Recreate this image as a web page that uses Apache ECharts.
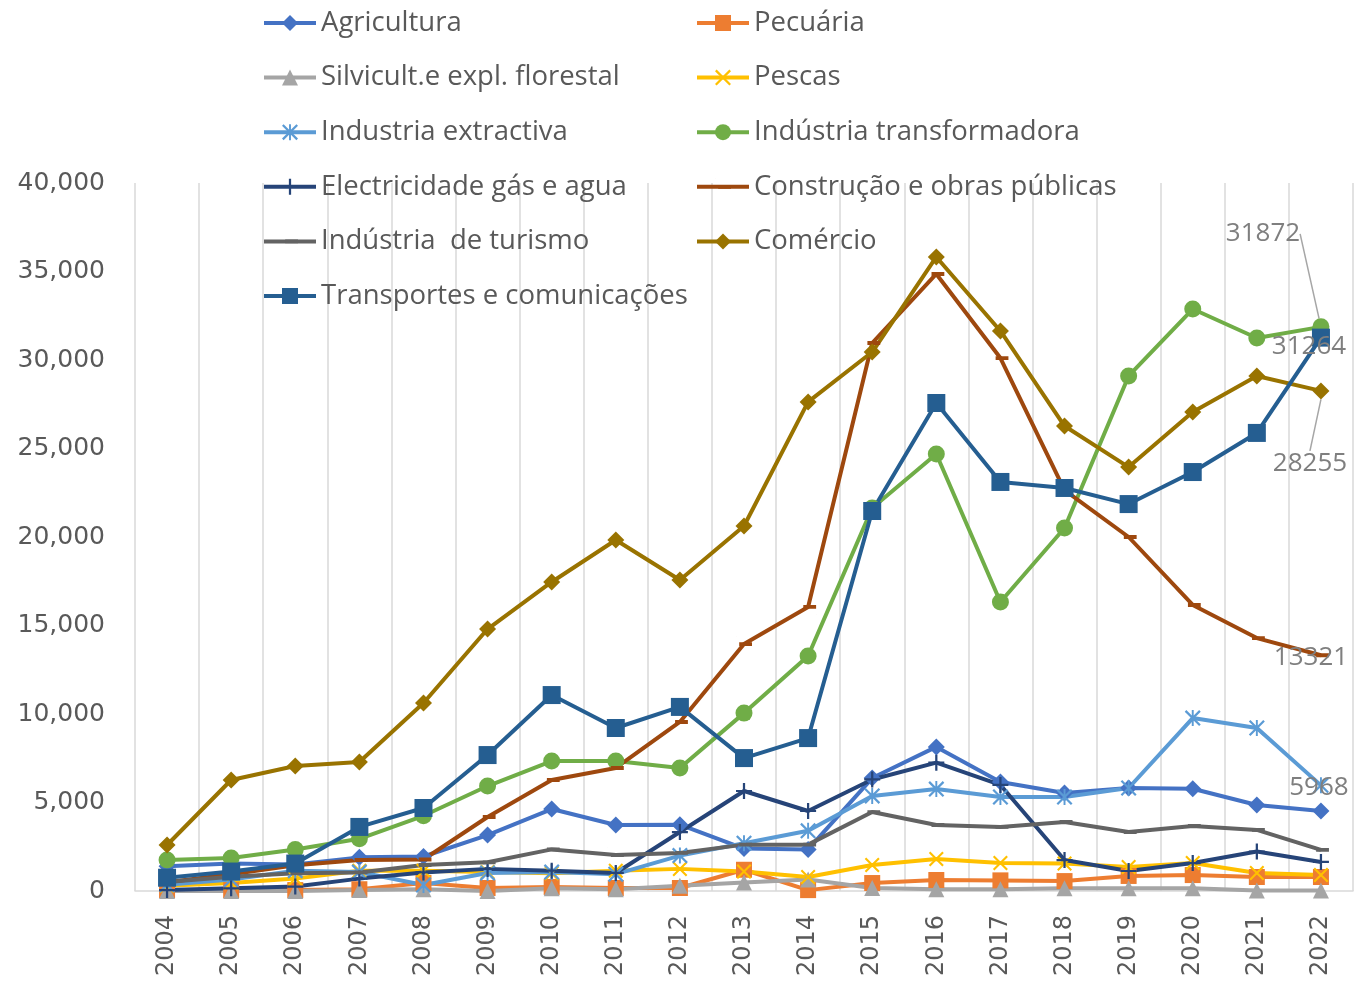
<!DOCTYPE html>
<html>
<head>
<meta charset="utf-8">
<script src="https://cdn.jsdelivr.net/npm/echarts@6.0.0/dist/echarts.min.js"></script>
<style>
  html, body { margin: 0; padding: 0; background: #fff; }
  #chart { width: 1370px; height: 988px; }
</style>
</head>
<body>
<div id="chart"></div>
<script>
var years = ['2004', '2005', '2006', '2007', '2008', '2009', '2010', '2011', '2012', '2013',
  '2014', '2015', '2016', '2017', '2018', '2019', '2020', '2021', '2022']

var agricultura = [1400, 1550, 1500, 1900, 1950, 3160, 4630, 3730, 3750, 2400, 2350, 6380, 8140, 6160, 5540, 5820, 5780, 4860, 4520]
var pecuaria = [50, 50, 50, 100, 450, 170, 230, 170, 170, 1200, 50, 450, 620, 600, 560, 850, 900, 790, 790]
var silvicultura = [0, 0, 0, 50, 100, 0, 150, 100, 300, 480, 650, 170, 100, 100, 150, 150, 150, 30, 30]
var pescas = [300, 450, 700, 1150, 1150, 1070, 1000, 1150, 1250, 1100, 790, 1470, 1810, 1580, 1560, 1360, 1580, 1020, 900]
var extractiva = [350, 650, 1150, 1070, 340, 1020, 1070, 950, 2000, 2700, 3400, 5370, 5760, 5310, 5310, 5820, 9770, 9210, 5968]
var transformadora = [1750, 1860, 2350, 2950, 4250, 5930, 7340, 7340, 6950, 10050, 13280, 21640, 24690, 16330, 20510, 29100, 32880, 31240, 31872]
var electricidade = [50, 150, 250, 700, 1050, 1250, 1150, 1020, 3330, 5650, 4520, 6300, 7250, 5990, 1750, 1130, 1580, 2230, 1640]
var construcao = [500, 950, 1450, 1750, 1780, 4180, 6270, 6950, 9550, 13950, 16050, 30960, 34860, 30110, 22650, 20000, 16160, 14290, 13321]
var turismo = [510, 800, 1000, 1050, 1470, 1620, 2350, 2030, 2150, 2620, 2620, 4460, 3730, 3620, 3900, 3330, 3670, 3450, 2320]
var comercio = [2600, 6270, 7060, 7290, 10620, 14800, 17460, 19830, 17570, 20620, 27630, 30450, 35820, 31640, 26270, 23950, 27060, 29100, 28255]
var transportes = [750, 1100, 1550, 3620, 4690, 7680, 11070, 9210, 10400, 7510, 8640, 21470, 27570, 23110, 22770, 21860, 23670, 25880, 31264]

// marcadores estilo Excel
var xMark = 'path://M0,10 L10,0 L100,90 L90,100 Z M90,0 L100,10 L10,100 L0,90 Z'
var starMark = xMark + ' M44,0 L56,0 L56,100 L44,100 Z'
var plusMark = 'path://M43,0 L57,0 L57,100 L43,100 Z M0,43 L100,43 L100,57 L0,57 Z'
// traço: os dois quadradinhos nos cantos só servem para manter a caixa quadrada
var dashMark = 'path://M0,0 L0.5,0 L0.5,0.5 L0,0.5 Z M20,38 L100,38 L100,62 L20,62 Z M99.5,99.5 L100,99.5 L100,100 L99.5,100 Z'

var textGray = '#595959'
var lastIdx = years.length - 1

function makeSeries(name, data, color, symbol, size, endLabel) {
  var s = {
    name: name,
    type: 'line',
    data: data.map(function (v, i) {
      if (endLabel && i === lastIdx) {
        return { value: v, label: { show: true } }
      }
      return v
    }),
    symbol: symbol,
    symbolSize: size,
    showAllSymbol: true,
    lineStyle: { width: 4, color: color },
    itemStyle: { color: color, borderWidth: 0 },
    emphasis: { disabled: true },
    animation: false,
    z: 2
  }
  if (endLabel) {
    s.label = {
      show: false,
      position: 'inside',
      fontFamily: 'Open Sans',
      fontSize: 26,
      color: '#7F7F7F'
    }
    s.labelLine = {
      show: endLabel.leader,
      lineStyle: { color: '#A6A6A6', width: 1.5 }
    }
    s.labelLayout = function (params) {
      var r = params.rect
      var lr = params.labelRect
      return {
        dx: r.x + r.width / 2 + endLabel.dx - (lr.x + lr.width / 2),
        dy: r.y + r.height / 2 + endLabel.dy - (lr.y + lr.height / 2)
      }
    }
  }
  return s
}

var chartDom = document.getElementById('chart')
var myChart = echarts.init(chartDom)

var legendText = {
  fontFamily: 'Open Sans',
  fontSize: 27.5,
  color: textGray,
  lineHeight: 30
}

var option = {
  backgroundColor: '#ffffff',
  animation: false,
  grid: {
    left: 135,
    right: 17,
    top: 183,
    bottom: 97
  },
  legend: [
    {
      orient: 'vertical',
      left: 257,
      top: 3,
      itemWidth: 52,
      itemHeight: 20,
      itemGap: 24.6,
      lineStyle: { width: 4 },
      textStyle: legendText,
      data: ['Agricultura', 'Silvicult.e expl. florestal', 'Industria extractiva',
        'Electricidade gás e agua', 'Indústria  de turismo', 'Transportes e comunicações']
    },
    {
      orient: 'vertical',
      left: 690,
      top: 3,
      itemWidth: 52,
      itemHeight: 20,
      itemGap: 24.6,
      lineStyle: { width: 4 },
      textStyle: legendText,
      data: ['Pecuária', 'Pescas', 'Indústria transformadora',
        'Construção e obras públicas', 'Comércio']
    }
  ],
  xAxis: {
    type: 'category',
    data: years,
    boundaryGap: true,
    axisLine: { lineStyle: { color: '#D9D9D9', width: 1.5 } },
    axisTick: { show: false },
    splitLine: {
      show: true,
      interval: 0,
      lineStyle: { color: '#D9D9D9', width: 1.5 }
    },
    axisLabel: {
      rotate: 90,
      interval: 0,
      margin: 24,
      fontFamily: 'DejaVu Sans',
      fontSize: 24,
      color: textGray
    }
  },
  yAxis: {
    type: 'value',
    min: 0,
    max: 40000,
    interval: 5000,
    axisLine: { show: false },
    axisTick: { show: false },
    splitLine: { show: false },
    axisLabel: {
      margin: 30,
      fontFamily: 'DejaVu Sans',
      fontSize: 25,
      color: textGray
    }
  },
  series: [
    makeSeries('Agricultura', agricultura, '#4472C4', 'diamond', 17),
    makeSeries('Pecuária', pecuaria, '#ED7D31', 'rect', 16),
    makeSeries('Silvicult.e expl. florestal', silvicultura, '#A5A5A5', 'triangle', 16),
    makeSeries('Pescas', pescas, '#FFC000', xMark, 15),
    makeSeries('Industria extractiva', extractiva, '#5B9BD5', starMark, 16, { dx: -2, dy: 2, leader: false }),
    makeSeries('Indústria transformadora', transformadora, '#70AD47', 'circle', 17, { dx: -58, dy: -93, leader: true }),
    makeSeries('Electricidade gás e agua', electricidade, '#264478', plusMark, 16),
    makeSeries('Construção e obras públicas', construcao, '#9E480E', dashMark, 16, { dx: -10, dy: 2, leader: false }),
    makeSeries('Indústria  de turismo', turismo, '#636363', dashMark, 16),
    makeSeries('Comércio', comercio, '#997300', 'diamond', 17, { dx: -11, dy: 73, leader: true }),
    makeSeries('Transportes e comunicações', transportes, '#255E91', 'rect', 18, { dx: -12, dy: 9, leader: false })
  ]
}

option && myChart.setOption(option)
</script>
</body>
</html>
